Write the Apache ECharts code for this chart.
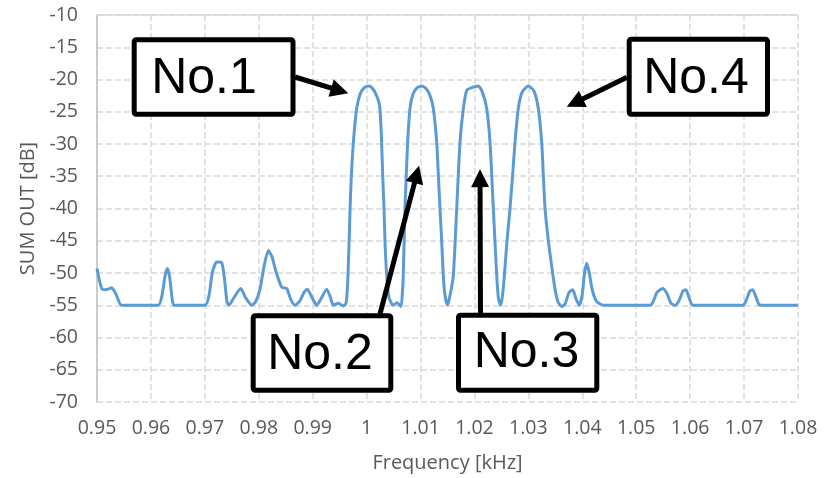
<!DOCTYPE html>
<html>
<head>
<meta charset="utf-8">
<script src="https://cdn.jsdelivr.net/npm/echarts@6/dist/echarts.min.js"></script>
<style>
    html, body { margin: 0; padding: 0; background: #fff; }
    #chart { width: 830px; height: 478px; }
</style>
</head>
<body>
<div id="chart"></div>
<script>
// Frequency [kHz]
var freq = [
    0.95000, 0.95087, 0.95167, 0.95273, 0.95352, 0.95458, 0.96137, 0.96205, 0.96261, 0.96304,
    0.96345, 0.96391, 0.96428, 0.97003, 0.97077, 0.97142, 0.97220, 0.97313, 0.97365, 0.97411,
    0.97448, 0.97541, 0.97665, 0.97754, 0.97869, 0.97939, 0.98023, 0.98097, 0.98177, 0.98246,
    0.98320, 0.98425, 0.98518, 0.98589, 0.98672, 0.98765, 0.98839, 0.98900, 0.98969, 0.99075,
    0.99154, 0.99260, 0.99330, 0.99382, 0.99475, 0.99568, 0.99618,
    // No.1
    0.99646, 0.99664, 0.99683, 0.99701, 0.99729, 0.99766, 0.99816, 0.99878, 0.99952, 1.00032,
    1.00100, 1.00174, 1.00240, 1.00275, 1.00298, 1.00323, 1.00341, 1.00373, 1.00415, 1.00490,
    1.00564, 1.00638,
    // No.2
    1.00664, 1.00679, 1.00696, 1.00711, 1.00735, 1.00761, 1.00804, 1.00860, 1.00934, 1.01022,
    1.01101, 1.01176, 1.01237, 1.01300, 1.01330, 1.01361, 1.01393, 1.01422, 1.01454, 1.01500,
    // No.3
    1.01547, 1.01608, 1.01671, 1.01732, 1.01794, 1.01856, 1.01936, 1.02071, 1.02140, 1.02227,
    1.02288, 1.02350, 1.02413, 1.02446, 1.02483,
    // No.4
    1.02520, 1.02554, 1.02604, 1.02659, 1.02706, 1.02752, 1.02813, 1.02882, 1.02999, 1.03104,
    1.03184, 1.03247, 1.03277, 1.03309, 1.03370, 1.03433, 1.03494, 1.03550, 1.03618,
    1.03680, 1.03754, 1.03823, 1.03884, 1.03946, 1.03996, 1.04042, 1.04082, 1.04125, 1.04181,
    1.04255, 1.04329, 1.04403, 1.05256, 1.05311, 1.05385, 1.05491, 1.05571, 1.05645, 1.05719,
    1.05793, 1.05867, 1.05923, 1.05978, 1.06052, 1.06980, 1.07035, 1.07109, 1.07159, 1.07211,
    1.07276, 1.07333, 1.08000
];

// SUM OUT [dB]
var sumOut = [
    -49.3, -52.4, -52.6, -52.3, -53.3, -55.0, -55.0, -53.5, -50.5, -49.3,
    -50.5, -53.8, -55.0, -55.0, -53.5, -49.8, -48.3, -48.4, -51.0, -54.5,
    -55.0, -53.8, -52.4, -53.8, -55.0, -54.5, -52.5, -49.0, -46.5, -47.5,
    -49.8, -52.2, -52.4, -54.0, -55.0, -54.3, -53.0, -52.5, -53.5, -55.0,
    -54.0, -52.5, -53.8, -55.0, -54.7, -55.1, -54.7,
    -52.0, -48.0, -43.0, -38.0, -33.0, -28.5, -24.5, -22.3, -21.3, -21.0,
    -21.3, -22.3, -24.0, -29.0, -34.8, -40.0, -45.2, -50.4, -53.8, -55.0,
    -54.6, -55.2,
    -53.0, -50.4, -45.0, -40.0, -35.0, -29.7, -24.5, -22.3, -21.3, -21.0,
    -21.4, -22.5, -24.5, -29.7, -34.8, -40.0, -45.2, -50.4, -53.5, -55.0,
    -53.5, -50.4, -40.0, -29.7, -24.5, -21.7, -21.3, -21.0, -21.8, -24.5,
    -29.7, -40.0, -50.4, -54.0, -55.0,
    -53.5, -50.4, -45.0, -40.0, -35.0, -29.7, -24.5, -22.0, -21.0, -21.8,
    -24.5, -29.7, -34.8, -40.0, -45.0, -49.0, -52.5, -54.5, -55.2,
    -54.8, -53.0, -52.6, -54.0, -55.0, -53.5, -50.0, -48.5, -49.8, -52.5,
    -54.3, -54.8, -55.0, -55.0, -54.5, -53.0, -52.4, -53.2, -54.7, -55.0,
    -54.3, -52.8, -52.6, -53.8, -55.0, -55.0, -54.3, -52.8, -52.6, -53.5,
    -54.9, -55.0, -55.0
];

// Callout labels and the point (frequency, dB) each arrow aims at
var calloutNames = ['No.1', 'No.2', 'No.3', 'No.4'];
var calloutTargets = [[0.99661, -22.15], [1.00972, -33.36], [1.02103, -33.9], [1.03711, -24.23]];

var chartElement = document.getElementById('chart');
var chart = echarts.init(chartElement);

var axisTextColor = '#595959';
var gridColor = '#d9d9d9';

chart.setOption({
    animation: false,
    textStyle: {
        fontFamily: '"Open Sans", "Liberation Sans", sans-serif'
    },
    grid: {
        left: 97,
        right: 32,
        top: 15,
        bottom: 76
    },
    xAxis: [{
        type: 'value',
        min: 0.95,
        max: 1.08,
        interval: 0.01,
        name: 'Frequency [kHz]',
        nameLocation: 'middle',
        nameGap: 51,
        nameTextStyle: { color: axisTextColor, fontSize: 20 },
        axisLine: { show: false },
        axisTick: { show: false },
        axisLabel: {
            color: axisTextColor,
            fontSize: 19.5,
            margin: 16,
            formatter: function (v) { return String(Number(v.toFixed(2))); }
        },
        splitLine: {
            show: true,
            lineStyle: { color: gridColor, width: 1.5, type: [6, 3] }
        }
    }, {
        // plain top border of the plot
        type: 'value',
        position: 'top',
        min: 0.95,
        max: 1.08,
        axisLine: { show: true, lineStyle: { color: gridColor, width: 1.5 } },
        axisTick: { show: false },
        axisLabel: { show: false },
        splitLine: { show: false }
    }],
    yAxis: [{
        type: 'value',
        min: -70,
        max: -10,
        interval: 5,
        name: 'SUM OUT [dB]',
        nameLocation: 'middle',
        nameGap: 58,
        nameTextStyle: { color: axisTextColor, fontSize: 20 },
        axisLine: { show: true, lineStyle: { color: '#bfbfbf', width: 1.5 } },
        axisTick: { show: false },
        axisLabel: { color: axisTextColor, fontSize: 19.5, margin: 19 },
        splitLine: {
            show: true,
            lineStyle: { color: gridColor, width: 1.5, type: [6, 3] }
        }
    }],
    series: [{
        type: 'line',
        data: freq.map(function (f, i) { return [f, sumOut[i]]; }),
        showSymbol: false,
        smooth: 0.2,
        lineStyle: { color: '#5b9bd5', width: 3 },
        itemStyle: { color: '#5b9bd5' }
    }]
});

// Callout boxes: outer edges in px, text centre, arrow tail
var boxes = [
    { x0: 131.7, y0: 37.3, x1: 295.5, y1: 116.7, tx: 204, ty: 79, tail: [295, 77] },
    { x0: 250.7, y0: 313.3, x1: 393.3, y1: 392.7, tx: 320, ty: 355, tail: [380, 314] },
    { x0: 456, y0: 312.7, x1: 599.3, y1: 392.7, tx: 526.5, ty: 353, tail: [480.5, 314] },
    { x0: 626.7, y0: 36.7, x1: 770, y1: 116.7, tx: 696, ty: 79, tail: [627, 77.3] }
];

var arrow = function (tail, tip) {
    var dx = tip[0] - tail[0], dy = tip[1] - tail[1];
    var len = Math.sqrt(dx * dx + dy * dy);
    var ux = dx / len, uy = dy / len;
    var headLen = 18, headHalf = 9;
    var bx = tip[0] - ux * headLen, by = tip[1] - uy * headLen;
    return [{
        type: 'line',
        shape: { x1: tail[0], y1: tail[1], x2: bx + ux * 2, y2: by + uy * 2 },
        style: { stroke: '#000', lineWidth: 5 },
        z: 10
    }, {
        type: 'polygon',
        shape: { points: [[tip[0], tip[1]], [bx - uy * headHalf, by + ux * headHalf], [bx + uy * headHalf, by - ux * headHalf]] },
        style: { fill: '#000' },
        z: 10
    }];
};

var graphics = [];
boxes.forEach(function (b, i) {
    var tip = chart.convertToPixel({ xAxisIndex: 0, yAxisIndex: 0 }, calloutTargets[i]);
    graphics = graphics.concat(arrow(b.tail, tip));
    graphics.push({
        type: 'rect',
        shape: { x: b.x0 + 2.5, y: b.y0 + 2.5, width: b.x1 - b.x0 - 5, height: b.y1 - b.y0 - 5, r: 2 },
        style: { fill: '#fff', stroke: '#000', lineWidth: 5 },
        z: 11
    });
    graphics.push({
        type: 'text',
        style: {
            text: calloutNames[i],
            x: b.tx,
            y: b.ty,
            fill: '#000',
            fontSize: 50,
            fontFamily: '"Liberation Sans", Arial, sans-serif',
            align: 'center',
            verticalAlign: 'middle'
        },
        z: 12
    });
});

chart.setOption({ graphic: graphics });

window.onresize = function () {
    chart.resize();
};
</script>
</body>
</html>
